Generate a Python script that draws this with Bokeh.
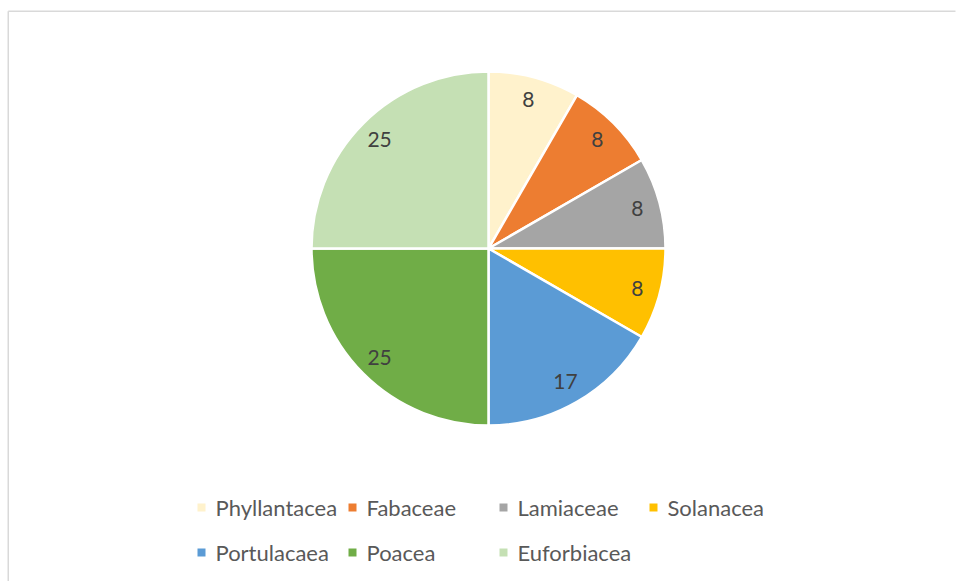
import math
from bokeh.plotting import figure
from bokeh.models import Range1d, ColumnDataSource
from bokeh.core.properties import value
from bokeh.embed import file_html
from bokeh.resources import INLINE

# ---- data ----
families = ["Phyllantacea", "Fabaceae", "Lamiaceae", "Solanacea",
            "Portulacaea", "Poacea", "Euforbiacea"]
counts = [1, 1, 1, 1, 2, 3, 3]   # shares; labels shown as rounded percentages
colors = ["#FFF2CC", "#ED7D31", "#A5A5A5", "#FFC000",
          "#5B9BD5", "#70AD47", "#C5E0B4"]

# ---- layout (pixels, measured from page top-left) ----
W, H = 956, 581
CX, CY = 488, H - 248
R = 177
LABEL_R = 154
FONT = "Lato"

total = sum(counts)
starts, ends, mids = [], [], []
acc = 0.0
for c in counts:
    a0 = math.pi / 2 - 2 * math.pi * acc / total
    acc += c
    a1 = math.pi / 2 - 2 * math.pi * acc / total
    starts.append(a0)
    ends.append(a1)
    mids.append((a0 + a1) / 2)

labels = [str(round(100 * c / total)) for c in counts]
src = ColumnDataSource(dict(
    start=starts, end=ends, color=colors, label=labels,
    lx=[CX + LABEL_R * math.cos(m) for m in mids],
    ly=[CY + LABEL_R * math.sin(m) for m in mids],
))

p = figure(width=W, height=H, x_range=Range1d(0, W), y_range=Range1d(0, H),
           output_backend="svg", toolbar_location=None, min_border=0)
p.axis.visible = False
p.grid.visible = False
p.outline_line_color = None
p.background_fill_color = "white"
p.border_fill_color = "white"

# chart frame (left and top edges visible in the window)
p.line(x=[7.75, 7.75], y=[0, H - 10.75], line_color="#D9D9D9", line_width=1.5)
p.line(x=[7.75, W - 1], y=[H - 10.75, H - 10.75], line_color="#D9D9D9", line_width=1.5)

p.wedge(x=CX, y=CY, radius=R, start_angle="end", end_angle="start",
        fill_color="color", line_color="white", line_width=2.5, source=src)

p.text(x="lx", y="ly", text="label", source=src, text_align="center",
       text_baseline="middle", text_font=value(FONT), text_font_size="21px",
       text_color="#404040")

# legend
col_x = [201, 352, 503, 653]
row_y = [H - 507, H - 552]
mx = [col_x[i % 4] for i in range(len(families))]
my = [row_y[i // 4] for i in range(len(families))]
lsrc = ColumnDataSource(dict(
    mx=mx, my=my, tx=[x + 14 for x in mx], name=families, color=colors))
p.rect(x="mx", y="my", width=8, height=8, fill_color="color",
       line_color=None, source=lsrc)
p.text(x="tx", y="my", text="name", source=lsrc, text_align="left",
       text_baseline="middle", text_font=value(FONT), text_font_size="22px",
       text_color="#595959")

open("out.html", "w").write(file_html(p, INLINE))
